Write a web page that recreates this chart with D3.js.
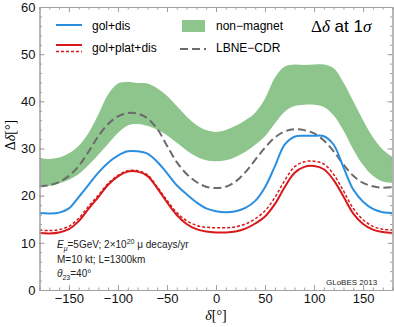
<html lang="en">
<head>
<meta charset="UTF-8">
<script src="https://d3js.org/d3.v7.min.js"></script>
<title>Delta delta at 1 sigma</title>
<style>
  body { margin: 0; background: #fff; }
  text { font-family: "Liberation Sans", Arial, sans-serif; }
  .serif { font-family: "Liberation Serif", "DejaVu Serif", serif; }
</style>
</head>
<body>
<script>

var deltas = [-180, -170, -160, -150, -140, -130, -120, -110, -100, -90, -80, -70, -60, -50, -40, -30, -20, -10,
              0, 10, 20, 30, 40, 50, 60, 70, 80, 90, 100, 110, 120, 130, 140, 150, 160, 170, 180];

var golDis = [16.3, 16.2, 16.4, 17.3, 19.7, 22.3, 24.9, 27.0, 28.5, 29.4, 29.4, 28.9, 27.2, 24.8, 22.2, 20.3, 18.6, 17.3,
              16.7, 16.5, 16.7, 17.4, 18.9, 21.8, 26.2, 30.8, 32.5, 32.7, 32.7, 32.6, 30.8, 26.0, 21.3, 18.7, 17.2, 16.5, 16.3];

var golPlatDis = [12.1, 12.0, 12.2, 12.9, 14.6, 17.2, 19.7, 22.3, 24.1, 25.1, 25.1, 24.2, 21.6, 18.6, 15.9, 14.0, 12.9, 12.4,
                  12.2, 12.2, 12.4, 13.0, 14.1, 15.6, 18.2, 21.8, 24.8, 26.1, 26.3, 25.6, 23.3, 19.8, 16.2, 14.0, 12.8, 12.3, 12.1];

var golPlatDisDashed = [12.7, 12.6, 12.8, 13.5, 15.2, 17.7, 20.1, 22.6, 24.3, 25.3, 25.3, 24.4, 21.9, 19.0, 16.4, 14.7, 13.7, 13.3,
                        13.2, 13.2, 13.4, 14.0, 15.1, 16.8, 19.6, 23.2, 26.1, 27.2, 27.3, 26.7, 24.5, 21.0, 17.3, 14.9, 13.5, 12.9, 12.7];

var nonMagnetLow = [22.0, 22.1, 22.6, 23.4, 24.6, 26.5, 28.7, 31.0, 33.3, 34.9, 35.2, 34.8, 34.0, 32.8, 31.2, 29.6, 28.3, 27.5,
                    27.3, 27.5, 28.2, 29.3, 30.8, 32.6, 35.3, 37.8, 39.0, 39.3, 39.3, 38.8, 37.0, 33.8, 29.8, 26.5, 24.2, 23.0, 22.7];

var nonMagnetHigh = [28.0, 27.8, 28.1, 29.0, 30.6, 33.3, 37.2, 41.5, 43.8, 44.1, 43.9, 43.8, 42.8, 41.2, 39.0, 36.8, 35.0, 33.9,
                     33.5, 33.9, 34.8, 36.0, 37.6, 40.6, 45.0, 47.4, 47.8, 47.7, 47.8, 47.8, 47.0, 44.0, 40.0, 36.0, 32.4, 29.8, 28.2];

var lbneCdr = [22.0, 22.2, 22.9, 24.2, 26.3, 29.3, 32.6, 35.2, 36.8, 37.5, 37.4, 36.4, 34.2, 30.6, 27.1, 24.6, 22.9, 21.9,
               21.6, 21.9, 23.0, 25.0, 27.6, 30.2, 32.3, 33.6, 34.1, 33.9, 33.2, 31.7, 29.4, 26.6, 24.2, 22.7, 22.0, 21.7, 21.8];

var xTicks = [-150, -100, -50, 0, 50, 100, 150];
var yTicks = [0, 10, 20, 30, 40, 50, 60];

//Width and height
var w = 394;
var h = 327;
var padLeft = 39.5, padRight = 392.5, padTop = 7, padBottom = 290;

var blue = "#2a8fe0";
var red = "#d7191c";
var green = "#8dc58d";
var grey = "#6b6b6b";
var frameColor = "#a0a0a0";

var xScale = d3.scaleLinear().domain([-180, 180]).range([padLeft, padRight]);
var yScale = d3.scaleLinear().domain([0, 60]).range([padBottom, padTop]);

var svg = d3.select("body")
    .append("svg")
    .attr("width", w)
    .attr("height", h);

svg.append("clipPath").attr("id", "plotclip")
    .append("rect")
    .attr("x", padLeft).attr("y", padTop)
    .attr("width", padRight - padLeft).attr("height", padBottom - padTop);

var plot = svg.append("g").attr("clip-path", "url(#plotclip)");

function lineOf(values) {
    return d3.line()
        .x(function (d, i) { return xScale(deltas[i]); })
        .y(function (d) { return yScale(d); })
        .curve(d3.curveCatmullRom.alpha(0.5))(values);
}

// non-magnet band
var band = d3.area()
    .x(function (d, i) { return xScale(deltas[i]); })
    .y0(function (d, i) { return yScale(nonMagnetLow[i]); })
    .y1(function (d, i) { return yScale(nonMagnetHigh[i]); })
    .curve(d3.curveCatmullRom.alpha(0.5));

plot.append("path")
    .attr("d", band(deltas))
    .attr("fill", green);

plot.append("path")
    .attr("d", lineOf(lbneCdr))
    .attr("fill", "none")
    .attr("stroke", grey)
    .attr("stroke-width", 2)
    .attr("stroke-dasharray", "8,4");

plot.append("path")
    .attr("d", lineOf(golDis))
    .attr("fill", "none")
    .attr("stroke", blue)
    .attr("stroke-width", 2);

plot.append("path")
    .attr("d", lineOf(golPlatDisDashed))
    .attr("fill", "none")
    .attr("stroke", red)
    .attr("stroke-width", 1.5)
    .attr("stroke-dasharray", "3,2");

plot.append("path")
    .attr("d", lineOf(golPlatDis))
    .attr("fill", "none")
    .attr("stroke", red)
    .attr("stroke-width", 2);

// frame with inward ticks
var xMinor = d3.range(-180, 181, 10);
var yMinor = d3.range(0, 61, 2);

svg.append("g")
    .attr("transform", "translate(0," + padBottom + ")")
    .call(d3.axisBottom(xScale).tickValues(xTicks).tickSizeInner(-5).tickSizeOuter(0).tickPadding(4));
svg.append("g")
    .attr("transform", "translate(0," + padTop + ")")
    .call(d3.axisTop(xScale).tickValues(xTicks).tickSizeInner(-5).tickSizeOuter(0).tickFormat(""));
svg.append("g")
    .attr("transform", "translate(" + padLeft + ",0)")
    .call(d3.axisLeft(yScale).tickValues(yTicks).tickSizeInner(-5).tickSizeOuter(0).tickPadding(4));
svg.append("g")
    .attr("transform", "translate(" + padRight + ",0)")
    .call(d3.axisRight(yScale).tickValues(yTicks).tickSizeInner(-5).tickSizeOuter(0).tickFormat(""));

svg.append("g").attr("transform", "translate(0," + padBottom + ")")
    .call(d3.axisBottom(xScale).tickValues(xMinor).tickSize(-2.5).tickFormat(""));
svg.append("g").attr("transform", "translate(0," + padTop + ")")
    .call(d3.axisTop(xScale).tickValues(xMinor).tickSize(-2.5).tickFormat(""));
svg.append("g").attr("transform", "translate(" + padLeft + ",0)")
    .call(d3.axisLeft(yScale).tickValues(yMinor).tickSize(-2.5).tickFormat(""));
svg.append("g").attr("transform", "translate(" + padRight + ",0)")
    .call(d3.axisRight(yScale).tickValues(yMinor).tickSize(-2.5).tickFormat(""));

svg.selectAll(".domain").attr("stroke", frameColor);
svg.selectAll(".tick line").attr("stroke", frameColor);
svg.selectAll(".tick text")
    .attr("font-family", "Liberation Sans, Arial, sans-serif")
    .attr("font-size", "13px")
    .attr("fill", "#111");

// axis labels
svg.append("text")
    .attr("class", "serif")
    .attr("transform", "translate(15,135) rotate(-90)")
    .attr("text-anchor", "middle")
    .attr("font-size", "14px")
    .html("&#916;<tspan font-style='italic'>&#948;</tspan>[&#176;]");

svg.append("text")
    .attr("class", "serif")
    .attr("x", 216).attr("y", 320)
    .attr("text-anchor", "middle")
    .attr("font-size", "14px")
    .html("<tspan font-style='italic'>&#948;</tspan>[&#176;]");

// title
var title = svg.append("text").attr("x", 311).attr("y", 32).attr("font-size", "17px");
title.append("tspan").attr("class", "serif").text("\u0394");
title.append("tspan").attr("class", "serif").attr("font-style", "italic").text("\u03b4");
title.append("tspan").text(" at 1");
title.append("tspan").attr("class", "serif").attr("font-style", "italic").text("\u03c3");

// legend
svg.append("line").attr("x1", 56).attr("x2", 82).attr("y1", 25).attr("y2", 25)
    .attr("stroke", blue).attr("stroke-width", 2);
svg.append("text").attr("x", 92).attr("y", 29.5).attr("font-size", "12px").text("gol+dis");

svg.append("line").attr("x1", 56).attr("x2", 82).attr("y1", 45).attr("y2", 45)
    .attr("stroke", red).attr("stroke-width", 2);
svg.append("line").attr("x1", 56).attr("x2", 82).attr("y1", 51.5).attr("y2", 51.5)
    .attr("stroke", red).attr("stroke-width", 1.5).attr("stroke-dasharray", "3,2");
svg.append("text").attr("x", 92).attr("y", 52).attr("font-size", "12px").text("gol+plat+dis");

svg.append("rect").attr("x", 182).attr("y", 20).attr("width", 23).attr("height", 12).attr("fill", green);
svg.append("text").attr("x", 216).attr("y", 29.5).attr("font-size", "12px").text("non\u2212magnet");

svg.append("line").attr("x1", 180).attr("x2", 206).attr("y1", 49).attr("y2", 49)
    .attr("stroke", grey).attr("stroke-width", 2).attr("stroke-dasharray", "8,4");
svg.append("text").attr("x", 216).attr("y", 52).attr("font-size", "12px").text("LBNE\u2212CDR");

// annotations
var a1 = svg.append("text").attr("x", 57).attr("y", 248).attr("font-size", "10px").attr("fill", "#222");
a1.append("tspan").attr("font-style", "italic").text("E");
a1.append("tspan").attr("font-size", "7px").attr("dy", 2.5).attr("font-style", "italic").text("\u03bc");
a1.append("tspan").attr("dy", -2.5).text("=5GeV; 2\u00d710");
a1.append("tspan").attr("font-size", "7px").attr("dy", -4).text("20");
a1.append("tspan").attr("dy", 4).text(" \u03bc decays/yr");

svg.append("text").attr("x", 57).attr("y", 263).attr("font-size", "10px").attr("fill", "#222")
    .text("M=10 kt; L=1300km");

var a3 = svg.append("text").attr("x", 57).attr("y", 277).attr("font-size", "10px").attr("fill", "#222");
a3.append("tspan").attr("font-style", "italic").text("\u03b8");
a3.append("tspan").attr("font-size", "7px").attr("dy", 2.5).text("23");
a3.append("tspan").attr("dy", -2.5).text("=40\u00b0");

svg.append("text").attr("x", 326).attr("y", 285).attr("font-size", "8px").attr("fill", "#222")
    .text("GLoBES 2013");

</script>
</body>
</html>
